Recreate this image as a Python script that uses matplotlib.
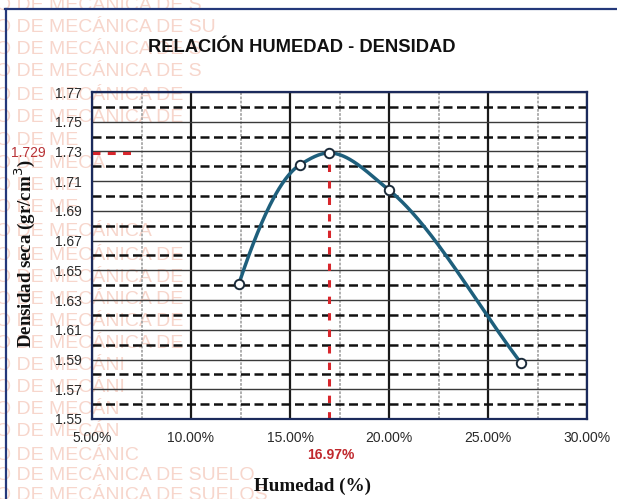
import numpy as np
import matplotlib.pyplot as plt
from matplotlib.lines import Line2D

# ── Data ──────────────────────────────────────────────────────────────────────
humedad   = [12.42, 15.50, 16.98, 20.00, 26.65]     # %
densidad  = [1.641, 1.721, 1.729, 1.704, 1.588]     # gr/cm3
hum_opt   = 16.97
dens_max  = 1.729

x_ticks   = [5, 10, 15, 20, 25, 30]
y_ticks   = [1.55, 1.57, 1.59, 1.61, 1.63, 1.65, 1.67, 1.69, 1.71, 1.73, 1.75, 1.77]

watermark = [
    (6, "O DE MECÁNICA DE S"), (28, "O DE MECÁNICA DE SU"), (50, "O DE MECÁNICA DE S"),
    (72, "O DE MECÁNICA DE S"), (95, "O DE MECÁNICA DE"), (118, "O DE MECÁNICA DE"),
    (140, "O DE ME"), (163, "O DE MECÁ"), (185, "O DE ME"), (208, "O DE ME"),
    (232, "O DE MECÁNICA"), (255, "O DE MECÁNICA DE"), (278, "O DE MECÁNICA DE"),
    (300, "O DE MECÁNICA DE"), (322, "O DE MECÁNICA DE"), (344, "O DE MECÁNICA DE"),
    (366, "O DE MECÁNI"), (388, "O DE MECÁNI"), (410, "O DE MECÁN"), (432, "O DE MECÁN"),
    (455, "O DE MECÁNIC"), (476, "O DE MECÁNICA DE SUELO"), (495, "O DE MECÁNICA DE SUELOS"),
]


# ── Shape-preserving cubic through the points (PCHIP-like) ────────────────────
def pchip_curve(xs, ys, n=60):
    x = np.asarray(xs, float)
    y = np.asarray(ys, float)
    h = np.diff(x)
    dl = np.diff(y) / h
    d = np.zeros_like(x)
    for k in range(1, len(x) - 1):
        if dl[k - 1] * dl[k] > 0:
            w1 = 2 * h[k] + h[k - 1]
            w2 = h[k] + 2 * h[k - 1]
            d[k] = (w1 + w2) / (w1 / dl[k - 1] + w2 / dl[k])

    # start: three-point estimate, end: follow the last chord
    s = ((2 * h[0] + h[1]) * dl[0] - h[0] * dl[1]) / (h[0] + h[1])
    d[0] = s if np.sign(s) == np.sign(dl[0]) else 0.0
    d[-1] = dl[-1]

    cx, cy = [], []
    for k in range(len(x) - 1):
        t = np.linspace(0, 1, n)
        h00 = 2 * t**3 - 3 * t**2 + 1
        h10 = t**3 - 2 * t**2 + t
        h01 = -2 * t**3 + 3 * t**2
        h11 = t**3 - t**2
        cx.append(x[k] + t * h[k])
        cy.append(h00 * y[k] + h10 * h[k] * d[k] + h01 * y[k + 1] + h11 * h[k] * d[k + 1])
    return np.concatenate(cx), np.concatenate(cy)


W, H = 617, 499
fig = plt.figure(figsize=(W / 100, H / 100), dpi=100)
fig.patch.set_facecolor("white")

# watermark behind everything
for yp, txt in watermark:
    fig.text(-4 / W, 1 - yp / H, txt, color="#f7d6cc", fontsize=14,
             family="Liberation Sans", va="center", ha="left", zorder=-2)

# outer border
fig.add_artist(Line2D([5 / W, 1], [1 - 9 / H] * 2, color="#24387a", lw=1.6))
fig.add_artist(Line2D([6 / W] * 2, [0, 1 - 9 / H], color="#24387a", lw=1.6))

ax = fig.add_axes([92 / W, 1 - 419 / H, (587 - 92) / W, (419 - 92) / H])
ax.set_facecolor("none")

ax.set_xlim(5, 30)
ax.set_ylim(1.55, 1.77)
ax.set_xticks(x_ticks)
ax.set_xticks(np.arange(7.5, 30, 5), minor=True)
ax.set_yticks(y_ticks)
ax.set_yticks(np.arange(1.56, 1.765, 0.02), minor=True)
ax.set_xticklabels([f"{v:.2f}%" for v in x_ticks])
ax.set_yticklabels([f"{v:.2f}" for v in y_ticks])

ax.grid(True, which="major", axis="x", color="#1a1a1a", lw=1.6)
ax.grid(True, which="minor", axis="x", color="#a8a8a8", lw=1.3, linestyle=(0, (1.5, 0.8)))
ax.grid(True, which="major", axis="y", color="#3a3a3a", lw=1.0)
ax.grid(True, which="minor", axis="y", color="#111111", lw=1.8, linestyle=(0, (3.6, 1.8)))
ax.set_axisbelow(True)

ax.tick_params(which="both", length=0)
ax.tick_params(axis="y", pad=7.5, labelsize=10)
ax.tick_params(axis="x", pad=9, labelsize=10)
for lab in ax.get_xticklabels() + ax.get_yticklabels():
    lab.set_family("Liberation Sans")
    lab.set_color("#2a2a2a")

for sp in ax.spines.values():
    sp.set_edgecolor("#1b2a5c")
    sp.set_linewidth(1.6)

# optimum reference lines
ax.plot([hum_opt, hum_opt], [1.55, dens_max - 0.004], color="#d8262c", lw=2.2,
        linestyle=(0, (2.4, 3.0)), zorder=1.5)
ax.plot([5, 7.0], [dens_max, dens_max], color="#d8262c", lw=2.2,
        linestyle=(0, (2.6, 2.4)), zorder=1.5)

# curve + points
cx, cy = pchip_curve(humedad, densidad)
ax.plot(cx, cy, color="#1e5f7c", lw=2.5, solid_capstyle="round", zorder=3)
ax.plot(humedad, densidad, linestyle="none", marker="o", markersize=6.8,
        markerfacecolor="white", markeredgecolor="#1b2b3a", markeredgewidth=1.4, zorder=4)

# labels
fig.text(302 / W, 1 - 47 / H, "RELACIÓN HUMEDAD - DENSIDAD", family="Liberation Sans",
         fontweight="bold", fontsize=13.2, ha="center", va="center", color="#111111")
fig.text(25 / W, 1 - 254 / H, "Densidad seca (gr/cm$^3$)", family="Liberation Serif",
         fontweight="bold", fontsize=13.6, rotation=90, ha="center", va="center",
         color="#111111")
fig.text(313 / W, 1 - 486 / H, "Humedad (%)", family="Liberation Serif",
         fontweight="bold", fontsize=13.8, ha="center", va="center", color="#111111")
ax.annotate(f"{hum_opt:.2f}%", xy=(hum_opt, 1.55), xytext=(2, -36),
            textcoords="offset pixels", ha="center", va="center", fontsize=10,
            fontweight="bold", color="#c0282d", family="Liberation Sans")
ax.annotate(f"{dens_max:.3f}", xy=(5, dens_max), xytext=(-64, 0),
            textcoords="offset pixels", ha="center", va="center", fontsize=10,
            color="#b83236", family="Liberation Sans")

plt.savefig("out.png", dpi=100, facecolor=fig.get_facecolor())
